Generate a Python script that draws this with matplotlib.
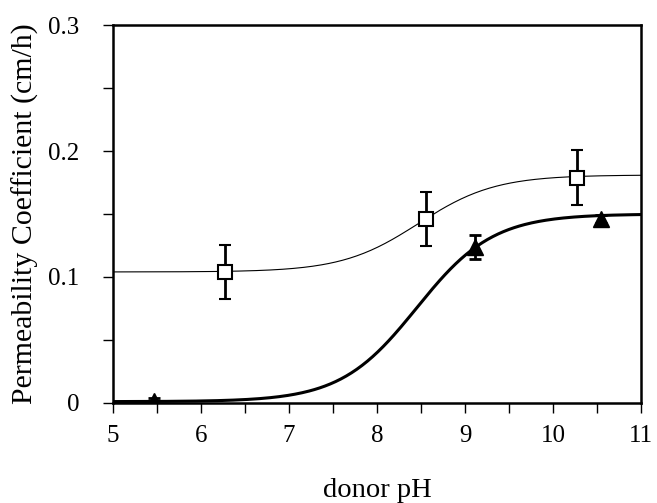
import matplotlib
matplotlib.use("Agg")
import matplotlib.pyplot as plt
import numpy as np
from matplotlib.ticker import MultipleLocator

plt.rcParams['font.family'] = ['Liberation Serif', 'DejaVu Serif']

# open squares (thin fitted curve)
sq_ph = [6.27, 8.55, 10.27]
sq_p = [0.104, 0.146, 0.179]
sq_err = [0.0217, 0.0216, 0.0217]

# filled triangles (thick fitted curve)
tri_ph = [5.46, 9.11, 10.54]
tri_p = [0.0015, 0.124, 0.146]
tri_err = [0.002, 0.0095, 0.003]

# fitted sigmoid parameters: low, high, pKa
sq_fit = (0.104, 0.181, 8.47)
tri_fit = (0.001, 0.150, 8.45)

y_ticks = [0, 0.1, 0.2, 0.3]
y_labels = ['0', '0.1', '0.2', '0.3']


def sigmoid(ph, fit):
    low, high, pka = fit
    return low + (high - low) / (1 + 10 ** (pka - ph))


fig = plt.figure(figsize=(6.57, 5.03), dpi=100)
ax = fig.add_axes([0.172, 0.199, 0.804, 0.751])

ph = np.linspace(5, 11, 300)
ax.plot(ph, sigmoid(ph, sq_fit), color='black', lw=0.8, zorder=2)
ax.plot(ph, sigmoid(ph, tri_fit), color='black', lw=2.2, zorder=2)

ax.errorbar(sq_ph, sq_p, yerr=sq_err, fmt='s', ms=10, mfc='white', mec='black',
            mew=1.5, ecolor='black', elinewidth=2, capsize=4.5, capthick=2, zorder=4)
ax.errorbar(tri_ph, tri_p, yerr=tri_err, fmt='^', ms=11, mfc='black', mec='black',
            ecolor='black', elinewidth=2, capsize=4.5, capthick=2, zorder=4)

ax.set_xlim(5, 11)
ax.set_ylim(0, 0.3)
ax.xaxis.set_major_locator(MultipleLocator(1))
ax.xaxis.set_minor_locator(MultipleLocator(0.5))
ax.set_yticks(y_ticks, y_labels)
ax.yaxis.set_minor_locator(MultipleLocator(0.05))
ax.tick_params(which='both', direction='out', length=7, width=1,
               labelsize=18, top=False, right=False)
ax.tick_params(axis='x', pad=9)
ax.tick_params(axis='y', pad=17)
for s in ax.spines.values():
    s.set_linewidth(1.8)

ax.set_xlabel('donor pH', fontsize=20.5, labelpad=22)
ax.set_ylabel('Permeability Coefficient (cm/h)', fontsize=21.5, labelpad=7)

fig.savefig('out.png', dpi=100)
